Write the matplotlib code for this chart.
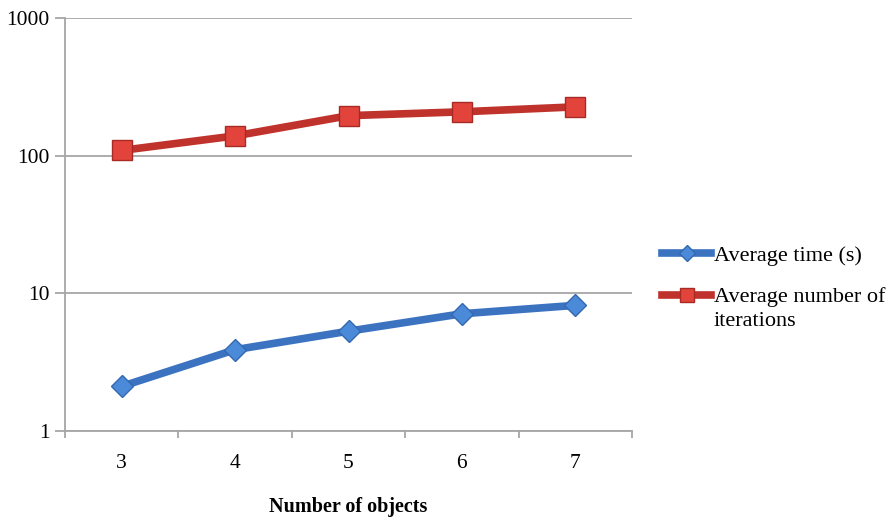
import numpy as np
import matplotlib.pyplot as plt
from matplotlib.ticker import FixedLocator, NullFormatter

plt.rcParams['font.family'] = ['Liberation Serif', 'DejaVu Serif']

# dati
n_objects = ['3', '4', '5', '6', '7']
avg_time = [2.10, 3.88, 5.29, 7.08, 8.15]
avg_iterations = [109, 139, 195, 208, 226]

fig = plt.figure(figsize=(8.93, 5.19), dpi=100)
ax = fig.add_axes([65 / 893, 1 - 430.7 / 519, (632 - 65) / 893, (430.7 - 18) / 519])

x = np.arange(len(n_objects))
grid_col = '#a6a6a6'

ax.plot(x, avg_time, color='#3b73c0', lw=5.5, marker='D', ms=11,
        mfc='#4a8ad8', mec='#3468b0', mew=1, label='Average time (s)', zorder=3)
ax.plot(x, avg_iterations, color='#c0332c', lw=5.5, marker='s', ms=14,
        mfc='#e2443c', mec='#a82a24', mew=1, label='Average number of', zorder=3)

ax.set_yscale('log')
ax.set_ylim(1, 1000)
ax.set_yticks([1, 10, 100, 1000])
ax.set_yticklabels(['1', '10', '100', '1000'])
ax.yaxis.set_minor_locator(FixedLocator([]))
ax.grid(axis='y', which='major', color=grid_col, lw=1.3)

ax.set_xlim(-0.5, len(n_objects) - 0.5)
ax.xaxis.set_major_locator(FixedLocator(np.arange(-0.5, len(n_objects), 1)))
ax.xaxis.set_major_formatter(NullFormatter())
ax.xaxis.set_minor_locator(FixedLocator(x))
ax.set_xticklabels(n_objects, minor=True)
ax.tick_params(axis='x', which='minor', length=0, labelsize=15.5, pad=17)
ax.tick_params(axis='x', which='major', length=5, color=grid_col, width=1.3)
ax.tick_params(axis='y', which='major', length=7, color=grid_col, width=1.3, labelsize=15.5, pad=4)

for side in ['top', 'right']:
    ax.spines[side].set_visible(False)
for side in ['left', 'bottom']:
    ax.spines[side].set_color(grid_col)
    ax.spines[side].set_linewidth(1.3)

ax.set_xlabel('Number of objects', fontsize=14.5, fontweight='bold', labelpad=17)

# legenda a destra, seconda riga dell'etichetta rossa scritta a parte
fig.legend(loc='upper left', bbox_to_anchor=(651 / 893, 1 - 234 / 519), frameon=False,
           fontsize=16, handlelength=2.2, handletextpad=0.15, labelspacing=0.95,
           borderpad=0, markerscale=0.75)
fig.text(714 / 893, 1 - 322 / 519, 'iterations', fontsize=16, va='center', ha='left')

plt.savefig('out.png', dpi=100)
